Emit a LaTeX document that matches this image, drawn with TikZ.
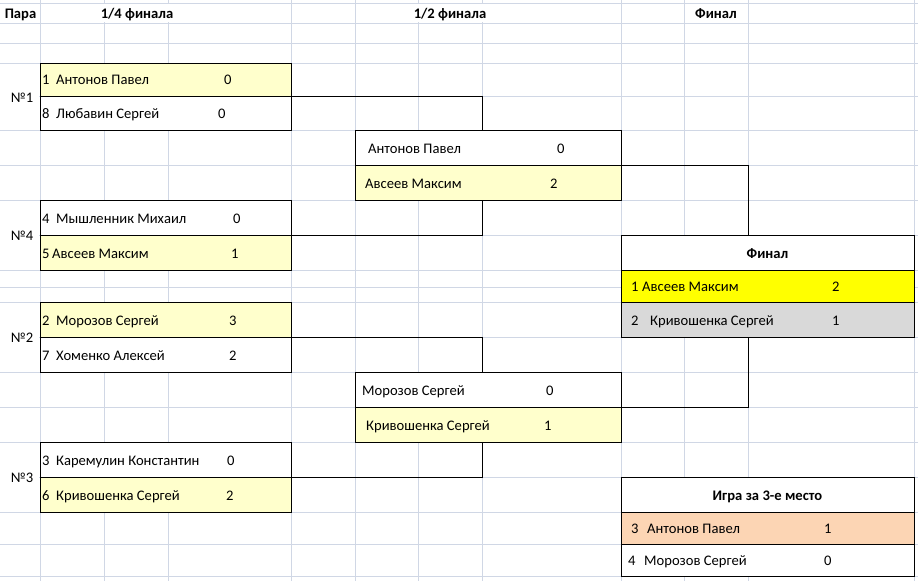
\documentclass[tikz,border=0pt]{standalone}
\usepackage{fontspec}
\setmainfont{Carlito}
\definecolor{gridc}{HTML}{D0D7E5}
\definecolor{ly}{HTML}{FFFFCC}
\definecolor{yw}{HTML}{FFFF00}
\definecolor{gr}{HTML}{D9D9D9}
\definecolor{pe}{HTML}{FCD5B4}
\begin{document}
\begin{tikzpicture}[x=1pt,y=-1pt,
  gridln/.style={draw=gridc,line width=1pt},
  box/.style={draw=black,line width=1pt,inner sep=0pt,outer sep=0pt},
  conn/.style={draw=black,line width=1pt},
  txt/.style={inner sep=0pt,anchor=base west,font=\fontsize{14.6}{17}\selectfont},
  hdr/.style={inner sep=0pt,anchor=base,font=\fontsize{14.6}{17}\selectfont\bfseries},
  lbl/.style={inner sep=0pt,anchor=base,font=\fontsize{14.6}{17}\selectfont}]
\useasboundingbox (0,0) rectangle (918,581);
% grid
\foreach \x in {40,104,168,291,355,418,482,621,684,748,914} \draw[gridln] (\x,0) -- (\x,581);
\foreach \y in {3,23,43,63,96.5,130,165,200,235,270,287,302,337,372,407,442,477,512,544,576} \draw[gridln] (0,\y) -- (918,\y);
% header overflow cells hide gridlines
\foreach \x in {104,168,418,482} \fill[white] (\x-1,3.6) rectangle (\x+1,22.4);
% merged pair cells
\fill[white] (0,63.6) rectangle (39.4,129.4);
\fill[white] (0,200.6) rectangle (39.4,269.4);
\fill[white] (0,302.6) rectangle (39.4,371.4);
\fill[white] (0,442.6) rectangle (39.4,511.4);
% box fills
\fill[ly] (40,63) rectangle (291,96.5);
\fill[white] (40,96.5) rectangle (291,130);
\fill[white] (355,130) rectangle (621,165);
\fill[ly] (355,165) rectangle (621,200);
\fill[white] (40,200) rectangle (291,235);
\fill[ly] (40,235) rectangle (291,270);
\fill[ly] (40,302) rectangle (291,337);
\fill[white] (40,337) rectangle (291,372);
\fill[white] (355,372) rectangle (621,407);
\fill[ly] (355,407) rectangle (621,442);
\fill[white] (40,442) rectangle (291,477);
\fill[ly] (40,477) rectangle (291,512);
\fill[white] (621,235) rectangle (914,270);
\fill[yw] (621,270) rectangle (914,302);
\fill[gr] (621,302) rectangle (914,337);
\fill[white] (621,477) rectangle (914,512);
\fill[pe] (621,512) rectangle (914,544);
\fill[white] (621,544) rectangle (914,576);
% boxes
\node[box,minimum width=251pt,minimum height=67pt] (q1) at (165.5,96.5) {};
\node[box,minimum width=251pt,minimum height=70pt] (q4) at (165.5,235) {};
\node[box,minimum width=251pt,minimum height=70pt] (q2) at (165.5,337) {};
\node[box,minimum width=251pt,minimum height=70pt] (q3) at (165.5,477) {};
\node[box,minimum width=266pt,minimum height=70pt] (s1) at (488,165) {};
\node[box,minimum width=266pt,minimum height=70pt] (s2) at (488,407) {};
\node[box,minimum width=293pt,minimum height=102pt] (f) at (767.5,286) {};
\node[box,minimum width=293pt,minimum height=99pt] (t) at (767.5,526.5) {};
% separators
\draw[conn] (q1.west) -- (q1.east);
\draw[conn] (q4.west) -- (q4.east);
\draw[conn] (q2.west) -- (q2.east);
\draw[conn] (q3.west) -- (q3.east);
\draw[conn] (s1.west) -- (s1.east);
\draw[conn] (s2.west) -- (s2.east);
\coordinate (f1l) at (621,270); \coordinate (f1r) at (914,270);
\coordinate (f2l) at (621,302); \coordinate (f2r) at (914,302);
\draw[conn] (f1l) -- (f1r);
\draw[conn] (f2l) -- (f2r);
\coordinate (t1l) at (621,512); \coordinate (t1r) at (914,512);
\coordinate (t2l) at (621,544); \coordinate (t2r) at (914,544);
\draw[conn] (t1l) -- (t1r);
\draw[conn] (t2l) -- (t2r);
% connectors
\coordinate (j1) at (482,130);
\coordinate (j4) at (482,200);
\coordinate (j2) at (482,372);
\coordinate (j3) at (482,442);
\coordinate (jf1) at (748,235);
\coordinate (jf2) at (748,337);
\draw[conn] (q1.east) -| (j1);
\draw[conn] (q4.east) -| (j4);
\draw[conn] (q2.east) -| (j2);
\draw[conn] (q3.east) -| (j3);
\draw[conn] (s1.east) -| (jf1);
\draw[conn] (s2.east) -| (jf2);
% headers
\node[hdr] (hPara) at (20.5,18.5) {Пара};
\node[hdr] (hQ) at (137,18.5) {1/4 финала};
\node[hdr] (hS) at (450,18.5) {1/2 финала};
\node[hdr] (hF) at (716,18.5) {Финал};
% pair labels
\node[lbl] (p1) at (22,102) {№1};
\node[lbl] (p4) at (22,240.5) {№4};
\node[lbl] (p2) at (22,342) {№2};
\node[lbl] (p3) at (22,482) {№3};
% quarter finals
\node[txt] (q1an) at (42,84.5) {1};
\node[txt] (q1aw) at (56,84.5) {Антонов Павел};
\node[txt] (q1as) at (224,84.5) {0};
\node[txt] (q1bn) at (42,118) {8};
\node[txt] (q1bw) at (56,118) {Любавин Сергей};
\node[txt] (q1bs) at (218,118) {0};
\node[txt] (q4an) at (42,223) {4};
\node[txt] (q4aw) at (56,223) {Мышленник Михаил};
\node[txt] (q4as) at (233,223) {0};
\node[txt] (q4bn) at (42,258) {5};
\node[txt] (q4bw) at (52,258) {Авсеев Максим};
\node[txt] (q4bs) at (231,258) {1};
\node[txt] (q2an) at (42,325) {2};
\node[txt] (q2aw) at (56,325) {Морозов Сергей};
\node[txt] (q2as) at (229,325) {3};
\node[txt] (q2bn) at (42,360) {7};
\node[txt] (q2bw) at (56,360) {Хоменко Алексей};
\node[txt] (q2bs) at (229,360) {2};
\node[txt] (q3an) at (42,465) {3};
\node[txt] (q3aw) at (56,465) {Каремулин Константин};
\node[txt] (q3as) at (227,465) {0};
\node[txt] (q3bn) at (42,500) {6};
\node[txt] (q3bw) at (56,500) {Кривошенка Сергей};
\node[txt] (q3bs) at (226,500) {2};
% semi finals
\node[txt] (s1aw) at (368,153) {Антонов Павел};
\node[txt] (s1as) at (557,153) {0};
\node[txt] (s1bw) at (365,188) {Авсеев Максим};
\node[txt] (s1bs) at (550,188) {2};
\node[txt] (s2aw) at (362,395) {Морозов Сергей};
\node[txt] (s2as) at (546,395) {0};
\node[txt] (s2bw) at (366,430) {Кривошенка Сергей};
\node[txt] (s2bs) at (544,430) {1};
% final
\node[hdr] (fh) at (767.5,258) {Финал};
\node[txt] (fan) at (631,291.5) {1};
\node[txt] (faw) at (642,291.5) {Авсеев Максим};
\node[txt] (fas) at (832,291.5) {2};
\node[txt] (fbn) at (631,325) {2};
\node[txt] (fbw) at (650,325) {Кривошенка Сергей};
\node[txt] (fbs) at (832,325) {1};
% third place
\node[hdr] (th) at (767.5,500) {Игра за 3-е место};
\node[txt] (tan) at (631,533.5) {3};
\node[txt] (taw) at (647,533.5) {Антонов Павел};
\node[txt] (tas) at (824,533.5) {1};
\node[txt] (tbn) at (628,565.5) {4};
\node[txt] (tbw) at (644,565.5) {Морозов Сергей};
\node[txt] (tbs) at (824,565.5) {0};
\end{tikzpicture}
\end{document}
